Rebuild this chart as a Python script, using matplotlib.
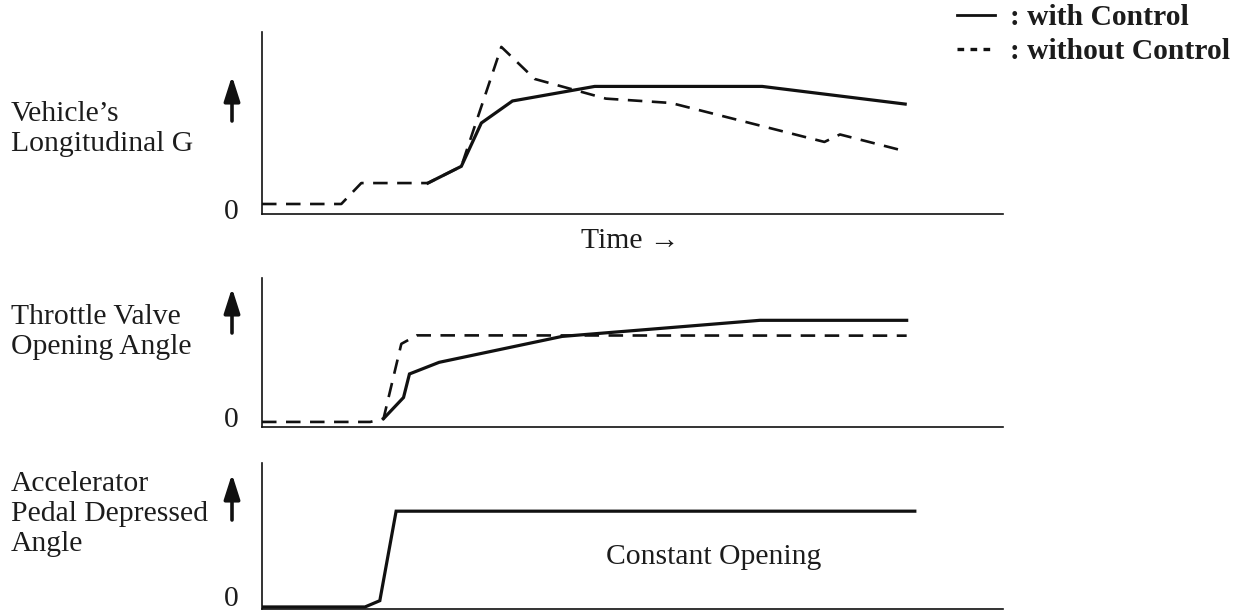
import matplotlib
matplotlib.use("Agg")
import matplotlib.pyplot as plt
from matplotlib.lines import Line2D
from matplotlib.patches import FancyArrowPatch

W, H = 1242, 613
DPI = 100

# ---------------- data (time units 0..100, value units 0..100) ----------------
g_time_without = [0, 10.7, 13.4, 22.4, 26.9, 32.3, 36.8, 46.4, 55.2, 75.9, 78.0, 86.5]
g_val_without = [5.5, 5.5, 17.0, 17.0, 26.2, 91.8, 74.2, 63.4, 61.0, 39.6, 43.7, 34.8]
g_time_with = [22.4, 26.9, 29.6, 33.8, 44.9, 67.5, 86.8]
g_val_with = [17.0, 26.2, 50.0, 62.1, 70.1, 70.1, 60.4]

thr_time_without = [0, 14.6, 16.4, 18.8, 20.9, 87.0]
thr_val_without = [3.4, 3.4, 5.6, 55.8, 61.5, 61.3]
thr_time_with = [16.4, 19.1, 19.9, 23.9, 40.5, 67.2, 87.0]
thr_val_with = [5.6, 19.8, 35.6, 43.4, 60.8, 71.6, 71.6]

acc_time = [0, 13.9, 15.9, 18.1, 88.1]
acc_val = [1.4, 1.4, 5.7, 67.0, 67.0]

panel_labels = ["Vehicle\u2019s\nLongitudinal G",
                "Throttle Valve\nOpening Angle",
                "Accelerator\nPedal Depressed\nAngle"]
legend_labels = [": with Control", ": without Control"]
time_label = "Time \u2192"
note_text = "Constant Opening"

# ---------------- style ----------------
SERIF = ["Liberation Serif", "DejaVu Serif"]
FS = 21.3
TXT = "#1c1c1c"
LW_SOLID = 2.3
LW_DASH = 1.9
DASH = (0, (5.5, 3.6))

fig = plt.figure(figsize=(W / DPI, H / DPI), dpi=DPI)


def fx(px):
    return px / W


def fy(py):
    return 1 - py / H


def make_axes(left, right, top, bottom):
    ax = fig.add_axes([fx(left), fy(bottom), fx(right) - fx(left), (bottom - top) / H])
    ax.set_xlim(0, 100)
    ax.set_ylim(0, 100)
    for s in ("top", "right"):
        ax.spines[s].set_visible(False)
    for s in ("left", "bottom"):
        ax.spines[s].set_linewidth(1.2)
        ax.spines[s].set_color("#111111")
    ax.set_xticks([])
    ax.set_yticks([])
    ax.patch.set_alpha(0)
    return ax


ax1 = make_axes(262, 1003, 32, 214)
ax2 = make_axes(262, 1003, 278, 427)
ax3 = make_axes(262, 1003, 463, 609)

ax1.plot(g_time_without, g_val_without, color="#111111", lw=LW_DASH, ls=DASH)
ax1.plot(g_time_with, g_val_with, color="#111111", lw=LW_SOLID, solid_joinstyle="miter")

ax2.plot(thr_time_without, thr_val_without, color="#111111", lw=LW_DASH, ls=DASH)
ax2.plot(thr_time_with, thr_val_with, color="#111111", lw=LW_SOLID, solid_joinstyle="miter")

ax3.plot(acc_time, acc_val, color="#111111", lw=LW_SOLID, solid_joinstyle="miter")

# panel labels (baseline of last line)
label_pos = [(11, 151), (11, 354), (11, 551)]
for txt, (x, y) in zip(panel_labels, label_pos):
    fig.text(fx(x), fy(y), txt, family=SERIF, fontsize=FS, color=TXT,
             ha="left", va="baseline", linespacing=1.2)

# zero labels
for y in (219, 427, 606):
    fig.text(fx(239), fy(y), "0", family=SERIF, fontsize=FS, color=TXT,
             ha="right", va="baseline")

# up arrows
for top, bot in ((76, 121), (288, 333), (474, 520)):
    fig.add_artist(FancyArrowPatch(
        (fx(232), fy(bot)), (fx(232), fy(top)), transform=fig.transFigure,
        arrowstyle="-|>,head_length=0.75,head_width=0.24", mutation_scale=20,
        lw=2.6, color="#111111", shrinkA=0, shrinkB=0))

# time label
fig.text(fx(630), fy(248), time_label, family=SERIF, fontsize=FS, color=TXT,
         ha="center", va="baseline")

# constant opening note
ax3.text(0.61, 0.31, note_text, transform=ax3.transAxes, family=SERIF,
         fontsize=FS, color=TXT, ha="center", va="baseline")

# legend
handles = [Line2D([], [], color="#111111", lw=2.0),
           Line2D([], [], color="#111111", lw=2.4, ls=(0, (2.0, 1.9)))]
leg = fig.legend(handles, legend_labels, loc="upper left",
                 bbox_to_anchor=(fx(957), fy(4)), frameon=False,
                 prop={"family": SERIF, "size": FS, "weight": "bold"},
                 handlelength=1.3, handletextpad=0.5, labelspacing=0.25,
                 borderpad=0.0, borderaxespad=0.0)
for t in leg.get_texts():
    t.set_color(TXT)

fig.savefig("out.png", dpi=DPI)
